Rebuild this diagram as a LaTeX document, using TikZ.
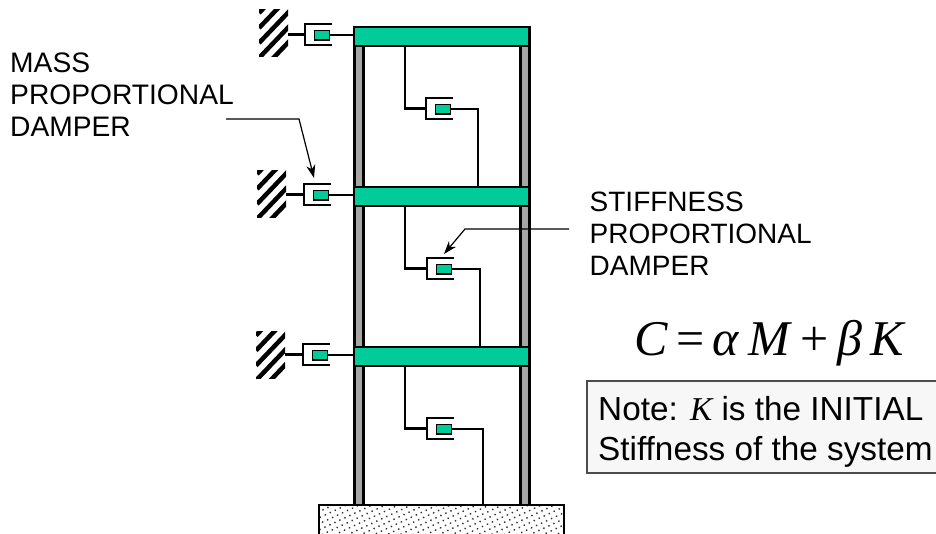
\documentclass[tikz,border=0pt]{standalone}
\usepackage{fontspec}
\usepackage{tikz}
\usetikzlibrary{calc,arrows.meta,patterns.meta}
\setmainfont{Liberation Sans}
\newfontfamily\timesfont{Liberation Serif}
\definecolor{beamgreen}{RGB}{0,204,153}

\newcommand{\damperat}[3]{%
\coordinate (#1) at (#2,#3);
\draw[cup] ($(#1)+(27,-10.5)$) -- ($(#1)+(0,-10.5)$) -- ($(#1)+(0,10.5)$) -- ($(#1)+(27,10.5)$);
\node (#1P) at ($(#1)+(17,0.5)$)[piston] {};
}

\begin{document}
\begin{tikzpicture}
[x=1pt,y=-1pt,>={Stealth[length=13pt,width=9pt,inset=4pt]},
member/.style={draw,line width=2.4pt},
cup/.style={draw,line width=2.8pt},
leader/.style={draw,line width=1.2pt},
beam/.style={draw,line width=2.2pt,fill=beamgreen,minimum width=175pt,minimum height=19pt,inner sep=0pt},
column/.style={draw,line width=2.2pt,fill=black!35,minimum width=9pt,minimum height=478pt,inner sep=0pt},
piston/.style={draw,line width=1.5pt,fill=beamgreen,minimum width=15pt,minimum height=9.5pt,inner sep=0pt},
wall/.style={minimum width=29pt,minimum height=47pt,inner sep=0pt,path picture={
  \foreach \s in {-1,...,3}
    \draw[line width=4.5pt] ($(path picture bounding box.south west)+(0,-15*\s+2)$) -- ++(42,-44);}},
label/.style={align=left,anchor=north west,inner sep=0pt,font=\fontsize{28}{32}\selectfont},
]
\useasboundingbox (0,0) rectangle (936,533);

%Ground
\node (G) at (441.5,521)[draw,line width=1.4pt,minimum width=245pt,minimum height=32pt,inner sep=0pt,
  pattern={Dots[distance=5.5pt,radius=1pt,angle=25]},pattern color=black!80] {};

%Columns and beams
\node (CL) at (359,266)[column] {};
\node (CR) at (525,266)[column] {};
\node (B1) at (441.5,36.5)[beam] {};
\node (B2) at (441.5,196.5)[beam] {};
\node (B3) at (441.5,356.5)[beam] {};

%Walls
\node (W1) at (273.5,32.5)[wall] {};
\node (W2) at (271.5,193.5)[wall] {};
\node (W3) at (270.5,355)[wall] {};

%Dampers to the walls
\damperat{D1}{305}{34.5}
\damperat{D2}{304}{194.5}
\damperat{D3}{303}{354.5}
\foreach \i in {1,2,3}{
\draw[member] (W\i.east |- D\i) -- (D\i);
\draw[member] (D\i P.east) -- (D\i P.east -| B\i.west);
}

%Dampers between floors
\damperat{I1}{426}{108.5}
\damperat{I2}{427}{268.5}
\damperat{I3}{427}{428.5}
\coordinate (T1) at (405,46);
\coordinate (T2) at (405,206);
\coordinate (T3) at (405,366);
\coordinate (F1) at (478,187);
\coordinate (F2) at (480,347);
\coordinate (F3) at (483,505);
\foreach \i in {1,2,3}{
\draw[member] (T\i) |- (I\i);
\draw[member] (I\i P.east) -| (F\i);
}

%Labels
\node (LM) at (10,53)[label,font=\fontsize{28.2}{32}\selectfont] {MASS\\PROPORTIONAL\\DAMPER};
\node (LS) at (589.5,192)[label] {STIFFNESS\\PROPORTIONAL\\DAMPER};

%Leaders
\coordinate (m1) at (226,119);
\coordinate (m2) at (299,119);
\coordinate (m3) at (314,178);
\draw[leader,->] (m1) -- (m2) -- (m3);
\coordinate (s1) at (569,229);
\coordinate (s2) at (465,229);
\coordinate (s3) at (444,254);
\draw[leader,->] (s1) -- (s2) -- (s3);

%Formula and note
\node (EQ) at (770,343)[inner sep=0pt,font=\timesfont\fontsize{50}{50}\selectfont] {\textit{C}\,=\,\textit{α}\,\textit{M}\,+\,\textit{β}\,\textit{K}};
\node (N) at (762,427)[draw=black!70,line width=1.2pt,fill=black!3,minimum width=350pt,minimum height=92pt,inner sep=0pt] {};
\node (NT) at (598,396)[anchor=north west,align=left,inner sep=0pt,font=\fontsize{33.3}{40}\selectfont] {Note: {\timesfont\itshape K} is the INITIAL\\Stiffness of the system};
\end{tikzpicture}
\end{document}
